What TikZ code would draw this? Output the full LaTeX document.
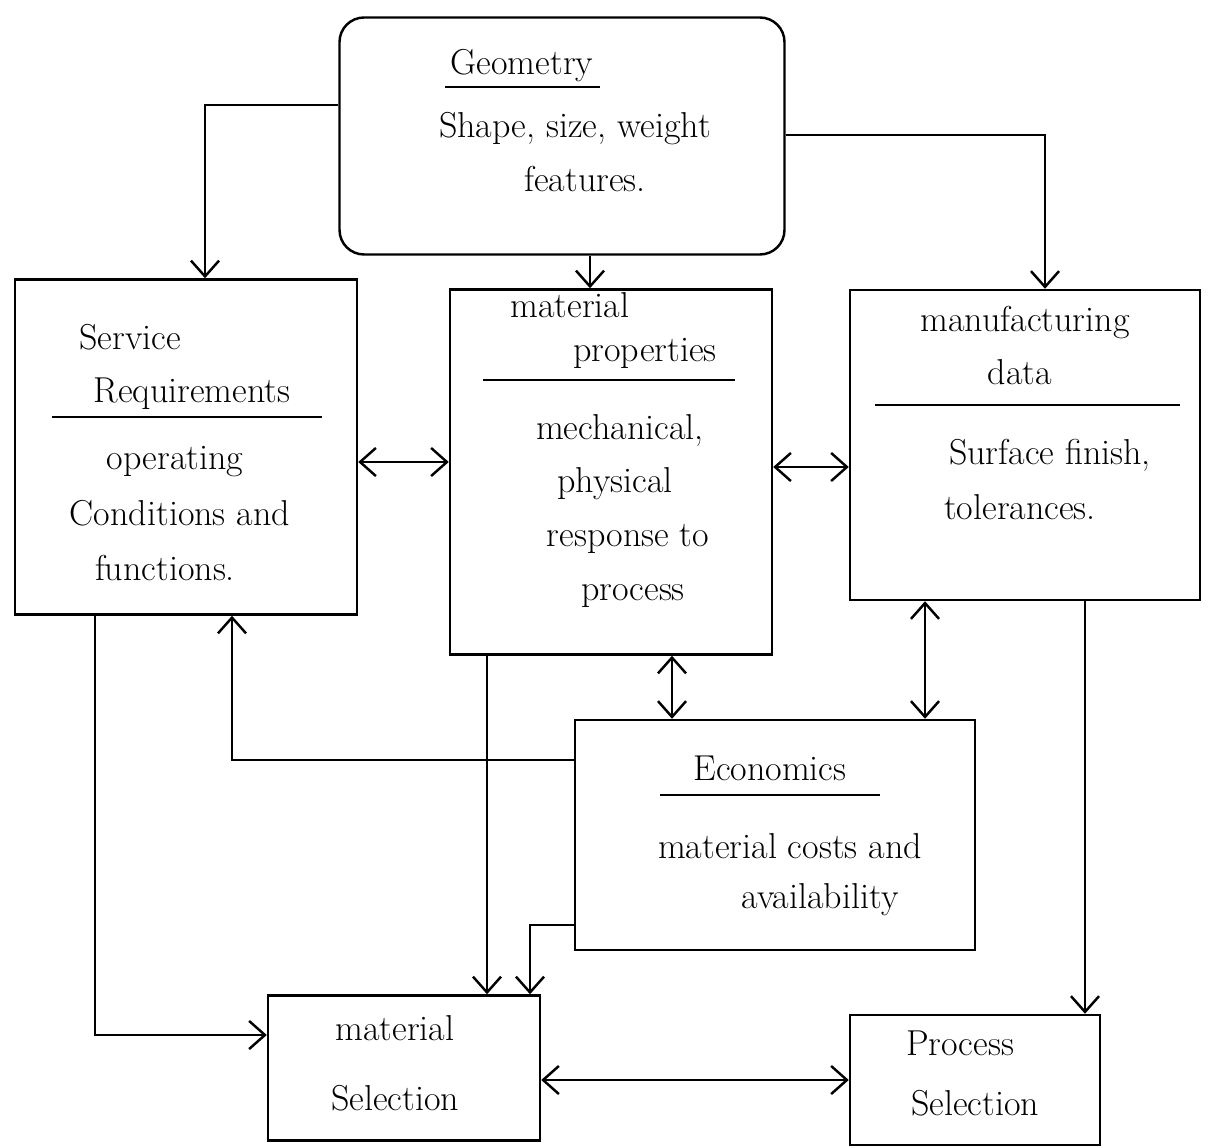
\documentclass[tikz,border=0pt]{standalone}
\usetikzlibrary{arrows.meta}
\begin{document}
\begin{tikzpicture}[x=0.02cm,y=-0.02cm,
  box/.style={draw, line width=1.4pt, inner sep=0pt},
  txt/.style={font=\fontsize{20.5}{24}\selectfont, inner sep=0pt, anchor=base},
  rule/.style={line width=1.4pt},
  arr/.style={line width=1.4pt, -{Straight Barb[length=9pt,width=16pt,line width=1.4pt]}},
  dbl/.style={line width=1.4pt, {Straight Barb[length=9pt,width=16pt,line width=1.4pt]}-{Straight Barb[length=9pt,width=16pt,line width=1.4pt]}}]
\useasboundingbox (0,0) rectangle (1210,1148);

% boxes
\node[box, rounded corners=14pt, minimum width=445*0.02cm, minimum height=237*0.02cm] (geo) at (562,136) {};
\node[box, minimum width=342*0.02cm, minimum height=335*0.02cm] (serv) at (186,447) {};
\node[box, minimum width=322*0.02cm, minimum height=365*0.02cm] (mat) at (611,472) {};
\node[box, minimum width=350*0.02cm, minimum height=310*0.02cm] (manu) at (1025,445) {};
\node[box, minimum width=400*0.02cm, minimum height=230*0.02cm] (eco) at (775,835) {};
\node[box, minimum width=272*0.02cm, minimum height=145*0.02cm] (msel) at (404,1068) {};
\node[box, minimum width=250*0.02cm, minimum height=130*0.02cm] (psel) at (975,1080) {};

% geometry text
\node[txt] (geoT) at (522,75) {Geometry};
\draw[rule] (445,87) -- (600,87);
\node[txt] (geoA) at (575,138) {Shape, size, weight};
\node[txt] (geoB) at (585,192) {features.};

% service requirements text
\node[txt] (servT1) at (130,350) {Service};
\node[txt] (servT2) at (192,403) {Requirements};
\draw[rule] (52,417) -- (322,417);
\node[txt] (servA) at (175,470) {operating};
\node[txt] (servB) at (180,525) {Conditions and};
\node[txt] (servC) at (165,580) {functions.};

% material properties text
\node[txt] (matT1) at (570,318) {material};
\node[txt] (matT2) at (645,362) {properties};
\draw[rule] (483,380) -- (735,380);
\node[txt] (matA) at (620,440) {mechanical,};
\node[txt] (matB) at (615,493) {physical};
\node[txt] (matC) at (628,546) {response to};
\node[txt] (matD) at (633,600) {process};

% manufacturing data text
\node[txt] (manuT1) at (1025,332) {manufacturing};
\node[txt] (manuT2) at (1020,385) {data};
\draw[rule] (875,405) -- (1180,405);
\node[txt] (manuA) at (1050,465) {Surface finish,};
\node[txt] (manuB) at (1020,520) {tolerances.};

% economics text
\node[txt] (ecoT) at (770,780) {Economics};
\draw[rule] (660,795) -- (880,795);
\node[txt] (ecoA) at (790,858) {material costs and};
\node[txt] (ecoB) at (820,908) {availability};

% selection text
\node[txt] (mselA) at (395,1040) {material};
\node[txt] (mselB) at (395,1110) {Selection};
\node[txt] (pselA) at (960,1055) {Process};
\node[txt] (pselB) at (975,1115) {Selection};

% connector guide positions
\coordinate (k1) at (205,105);
\coordinate (k2) at (590,0);
\coordinate (k3) at (1045,135);
\coordinate (k4) at (0,462);
\coordinate (k5) at (0,467);
\coordinate (k6) at (672,0);
\coordinate (k7) at (925,0);
\coordinate (k8) at (232,760);
\coordinate (k9) at (95,1035);
\coordinate (k10) at (487,0);
\coordinate (k11) at (530,925);
\coordinate (k12) at (1085,0);
\coordinate (k13) at (0,1080);

% connectors
\draw[arr] (geo.west |- k1) -| (serv.north -| k1);
\draw[arr] (geo.south -| k2) -- (mat.north -| k2);
\draw[arr] (geo.east |- k3) -| (manu.north -| k3);
\draw[dbl] (serv.east |- k4) -- (mat.west |- k4);
\draw[dbl] (mat.east |- k5) -- (manu.west |- k5);
\draw[dbl] (mat.south -| k6) -- (eco.north -| k6);
\draw[dbl] (manu.south -| k7) -- (eco.north -| k7);
\draw[arr] (eco.west |- k8) -| (serv.south -| k8);
\draw[arr] (serv.south -| k9) |- (msel.west |- k9);
\draw[arr] (mat.south -| k10) -- (msel.north -| k10);
\draw[arr] (eco.west |- k11) -| (msel.north -| k11);
\draw[arr] (manu.south -| k12) -- (psel.north -| k12);
\draw[dbl] (msel.east |- k13) -- (psel.west |- k13);
\end{tikzpicture}
\end{document}
